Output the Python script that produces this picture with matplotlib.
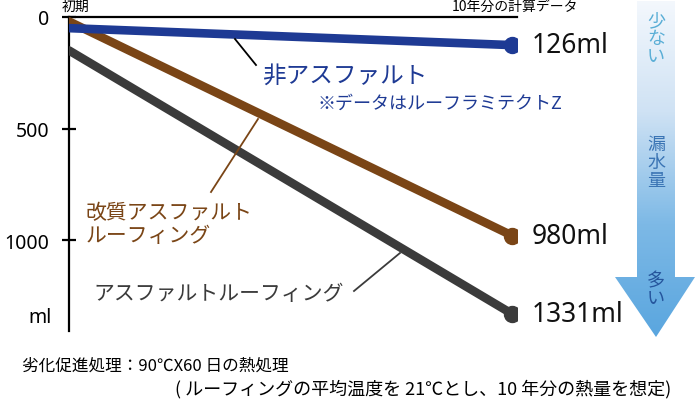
import numpy as np
import matplotlib
matplotlib.use("Agg")
import matplotlib.pyplot as plt
from matplotlib.patches import Polygon
from matplotlib.colors import LinearSegmentedColormap

plt.rcParams['font.family'] = ['Noto Sans CJK JP', 'DejaVu Sans']

# data: leakage (ml), at start and after 10 years
years = [0, 10]
non_asphalt = [50, 126]
modified = [20, 980]
asphalt = [150, 1331]
yticks = [0, 500, 1000]

c_blue = '#1e3a94'
c_brown = '#7a4516'
c_grey = '#3b3b3b'

W, H = 700, 410
fig = plt.figure(figsize=(7, 4.1), dpi=100)

# main axes: x pixel 69..517, y pixel 18..332
ax = fig.add_axes([69 / W, 1 - 332 / H, 448 / W, 314 / H])
ax.set_xlim(0, 10 * 448 / 443)
ax.set_ylim(1408, 0)
for s in ['right', 'bottom']:
    ax.spines[s].set_visible(False)
ax.spines['left'].set_linewidth(1.6)
ax.spines['top'].set_linewidth(1.6)
ax.set_xticks([])
ax.set_yticks(yticks)
ax.set_yticklabels([str(t) for t in yticks], fontsize=14, family='Noto Sans')
ax.tick_params(axis='y', direction='inout', length=10, width=1.6, pad=9)
ax.patch.set_alpha(0)

for vals, col in [(asphalt, c_grey), (modified, c_brown), (non_asphalt, c_blue)]:
    ax.plot(years, vals, color=col, lw=6.2, solid_capstyle='round', zorder=3)
    ax.plot(years[-1], vals[-1], 'o', color=col, ms=11.5, zorder=4)
    ax.annotate(f"{vals[-1]}ml", (years[-1], vals[-1]), xytext=(14, 0),
                textcoords='offset points', va='center', ha='left',
                fontsize=19, family='Noto Sans', color='#111111')

# overlay in pixel coordinates
ov = fig.add_axes([0, 0, 1, 1], zorder=5)
ov.set_xlim(0, W)
ov.set_ylim(H, 0)
ov.axis('off')
ov.patch.set_alpha(0)

# arrow with gradient
arrow = [(637, 2), (675, 2), (675, 278), (695, 278), (656, 338),
         (615, 278), (637, 278)]
grad = np.linspace(0, 1, 256).reshape(-1, 1)
cmap = LinearSegmentedColormap.from_list('g', ['#f4f8fd', '#cfe2f4', '#7db9e6', '#5aa6df'])
im = ov.imshow(grad, cmap=cmap, extent=[610, 700, 338, 0], aspect='auto', zorder=1)
poly = Polygon(arrow, closed=True, facecolor='none', edgecolor='none')
ov.add_patch(poly)
im.set_clip_path(poly)

def vtext(x, y, s, col, fs=13):
    ov.text(x, y, '\n'.join(s), ha='center', va='top', fontsize=fs,
            color=col, linespacing=1.0, zorder=2)

vtext(656, 12, '少ない', '#5aaed6')
vtext(656, 136, '漏水量', '#3a74b4')
vtext(656, 272, '多い', '#25559c')

# labels and leader lines
ov.plot([235, 256], [40, 66], color='black', lw=1.3)
ov.text(262, 76, '非アスファルト', color=c_blue, fontsize=17, va='center')
ov.text(318, 104, '※データはルーフラミテクトZ', color=c_blue, fontsize=13, va='center')

ov.plot([211, 258], [193, 120], color=c_brown, lw=1.3)
ov.text(86, 213, '改質アスファルト', color=c_brown, fontsize=15, va='center')
ov.text(86, 236, 'ルーフィング', color=c_brown, fontsize=15, va='center')

ov.plot([354, 400], [292, 254], color=c_grey, lw=1.3)
ov.text(93, 294, 'アスファルトルーフィング', color=c_grey, fontsize=15, va='center')

ov.text(52, 318, 'ml', fontsize=14, ha='right', va='center', family='Noto Sans')

# header texts (cut at the top in the source image)
ov.text(62, 7, '初期', fontsize=10, va='center')
ov.text(452, 7, '10年分の計算データ', fontsize=10, va='center')

# footnote
ov.text(22, 366, '劣化促進処理：90℃X60 日の熱処理', fontsize=12, va='center')
ov.text(175, 389, '( ルーフィングの平均温度を 21℃とし、10 年分の熱量を想定)', fontsize=13, va='center')

fig.savefig('out.png', dpi=100)
